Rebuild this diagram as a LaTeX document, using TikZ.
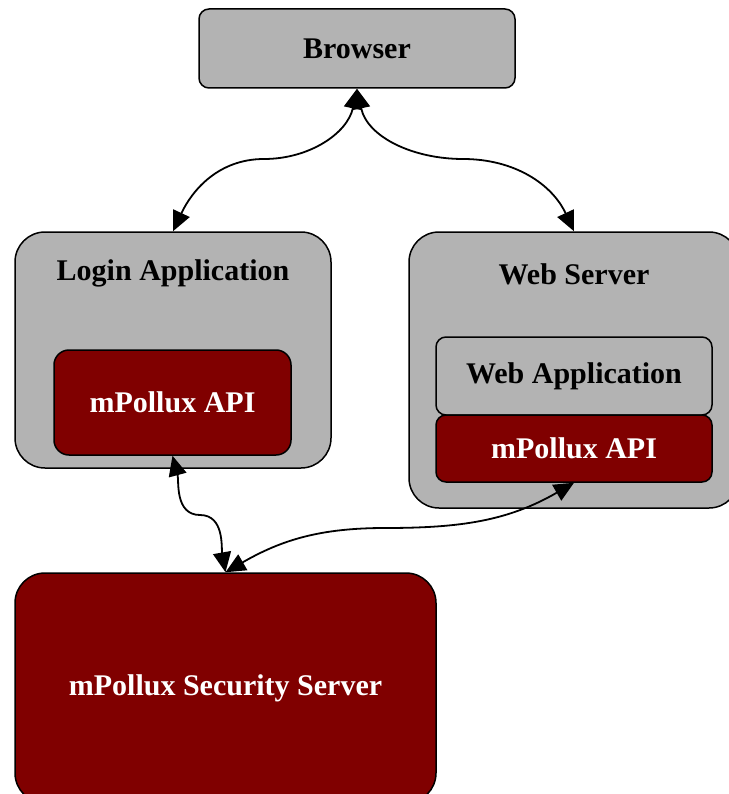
\documentclass[tikz,border=0pt]{standalone}
\usepackage{fontspec}
\setmainfont{Liberation Serif}
\usetikzlibrary{arrows.meta}

\definecolor{boxgray}{RGB}{179,179,179}
\definecolor{apired}{RGB}{128,0,0}

\begin{document}
\begin{tikzpicture}[x=1pt,y=1pt,
  every node/.style={font=\bfseries\fontsize{30}{36}\selectfont,inner sep=0pt},
  graybox/.style={draw=black,line width=1.5pt,fill=boxgray},
  redbox/.style={draw=black,line width=1.5pt,fill=apired,text=white},
  title/.style={text=black},
  tip/.tip={Triangle[length=20pt,width=18pt]},
  link/.style={line width=1.8pt,tip-tip}]

  \useasboundingbox (0,0) rectangle (728,-794);

  % Boxes
  \node[graybox,rounded corners=10pt,minimum width=316pt,minimum height=79pt] (B) at (357,-48.5) {Browser};

  \node[graybox,rounded corners=30pt,minimum width=316pt,minimum height=236pt] (LA) at (173,-350) {};
  \node[title] (LAT) at (173,-273.5) {Login Application};
  \node[redbox,rounded corners=15pt,minimum width=237pt,minimum height=105pt] (LAPI) at (172.5,-402.5) {mPollux API};

  \node[graybox,rounded corners=30pt,minimum width=330pt,minimum height=276pt] (WS) at (574,-370) {};
  \node[title] (WST) at (574,-274) {Web Server};
  \node[graybox,rounded corners=10pt,minimum width=276pt,minimum height=78pt] (WA) at (574,-376) {Web Application};
  \node[redbox,rounded corners=10pt,minimum width=276pt,minimum height=67pt] (WAPI) at (574,-448.5) {mPollux API};

  \node[redbox,rounded corners=30pt,minimum width=421pt,minimum height=230pt] (SS) at (225.5,-688) {mPollux Security Server};

  % Connectors
  \coordinate (BL) at (264,-159);
  \coordinate (BR) at (463,-159);
  \coordinate (LL) at (200,-515);
  \coordinate (LR) at (385,-528);

  \draw [link] (B.south) to[out=-102,in=0] (BL) to[out=180,in=65] (LA.north);
  \draw [link] (B.south) to[out=-78,in=180] (BR) to[out=0,in=115] (WS.north);
  \draw [link] (LAPI.south) to[out=-75,in=180] (LL) to[out=0,in=100] (SS.north);
  \draw [link] (WAPI.south) to[out=-150,in=0] (LR) to[out=180,in=30] (SS.north);

\end{tikzpicture}
\end{document}
